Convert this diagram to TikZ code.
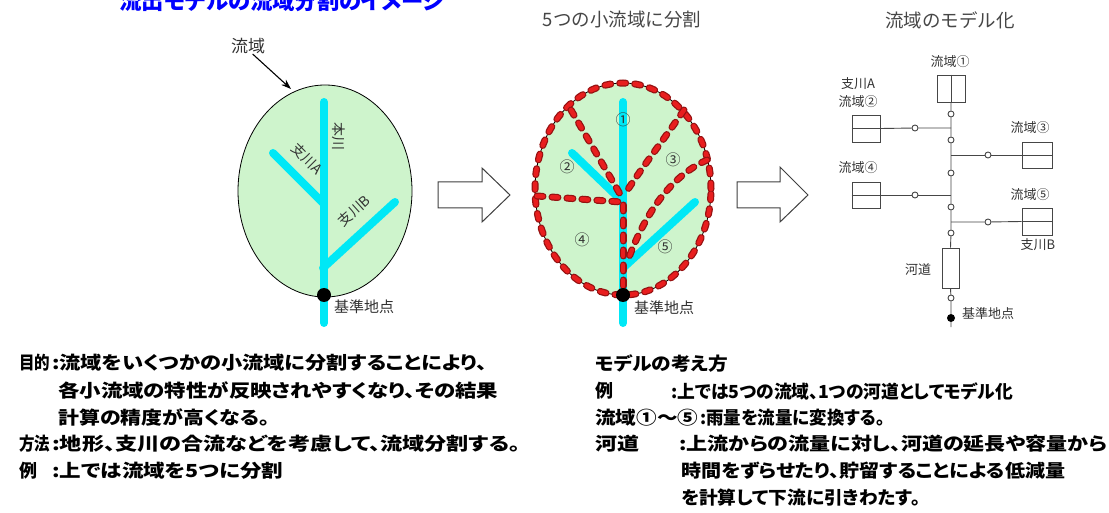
\documentclass[tikz,border=0pt]{standalone}
\usepackage{graphicx}
\usepackage{fontspec}
\setmainfont{Noto Sans CJK JP}
\newfontfamily\jpp[RawFeature=+palt]{Noto Sans CJK JP}
\usetikzlibrary{arrows.meta}

\definecolor{leafgreen}{RGB}{206,244,204}
\definecolor{rivercyan}{RGB}{0,232,246}
\definecolor{darkred}{RGB}{150,18,18}
\definecolor{brightred}{RGB}{232,30,30}
\definecolor{labelgray}{RGB}{50,50,50}
\definecolor{titlegray}{RGB}{70,70,70}
\definecolor{linegray}{RGB}{70,70,70}
\definecolor{titleblue}{RGB}{0,0,255}

% stretch a line of text horizontally to a given width
\newcommand\spanto[2]{\resizebox{#1}{\height}{#2}}

\tikzset{
  leaf/.style={fill=leafgreen, draw=black, line width=0.8pt},
  river/.style={draw=rivercyan, line width=8pt, line cap=round},
  reddash/.style={
    preaction={draw=darkred, line width=7pt, line cap=round, dash pattern=on 6pt off 9pt},
    draw=brightred, line width=4.5pt, line cap=round, dash pattern=on 6pt off 9pt},
  basedot/.style={circle, fill=black, inner sep=0pt, minimum size=14pt},
  lbl/.style={text=labelgray, inner sep=0pt, font=\fontsize{15}{17}\selectfont},
  smalllbl/.style={text=labelgray, inner sep=0pt, font=\fontsize{13}{15}\selectfont},
  headline/.style={text=titlegray, inner sep=0pt, font=\fontsize{18.5}{20}\selectfont},
  jbox/.style={draw=linegray, fill=white, line width=0.9pt, inner sep=0pt},
  tick/.style={circle, draw=linegray, fill=white, line width=0.9pt, inner sep=0pt, minimum size=6pt},
  wire/.style={draw=linegray, line width=0.9pt},
  note/.style={anchor=west, inner sep=0pt, font=\jpp\bfseries\fontsize{18}{20}\selectfont},
  blockarrow/.style={draw=black!75, fill=white, line width=1pt, line join=miter}
}

\begin{document}
\begin{tikzpicture}[x=1pt,y=-1pt]
\path[use as bounding box] (0,0) rectangle (1109,513);
\fill[white] (0,0) rectangle (1109,513);

% heading, cut by the top edge
\node[inner sep=0pt, text=titleblue, font=\jpp\bfseries\fontsize{22}{24}\selectfont] (title) at (282,1) {\spanto{325pt}{流出モデルの流域分割のイメージ}};

% ---------- left: whole basin ----------
\fill[leaf] (325,191) ellipse [x radius=87pt, y radius=106pt];
\coordinate (Lt) at (324,102);
\coordinate (Lb) at (324,323);
\coordinate (LAt) at (273,153);
\coordinate (LAj) at (323,203);
\coordinate (LBt) at (395,202);
\coordinate (LBj) at (323,268);
\draw[river] (Lt) -- (Lb);
\draw[river] (LAt) -- (LAj);
\draw[river] (LBt) -- (LBj);
\node[basedot] (Lbase) at (324,295) {};
\node[lbl, anchor=west] (Lbaselbl) at (334,307) {基準地点};
\node[lbl, font=\fontsize{14}{16}\selectfont, rotate=-90] (honsen) at (339,137) {本川};
\node[lbl, font=\fontsize{14}{16}\selectfont, rotate=-45] (shiA) at (307,159) {支川A};
\node[lbl, font=\fontsize{14}{16}\selectfont, rotate=42] (shiB) at (354,211) {支川B};
\node[lbl, font=\fontsize{17}{19}\selectfont] (ryuiki) at (248,46) {流域};
\coordinate (leafedge) at (291,89);
\draw[-{Stealth[length=10pt,width=7pt]}, line width=1.1pt, black] (ryuiki.-60) -- (leafedge);

% ---------- arrows ----------
\draw[blockarrow] (438,182) -- (482,182) -- (482,168) -- (510,195) -- (482,222) -- (482,208) -- (438,208) -- cycle;
\draw[blockarrow] (737,182) -- (780,182) -- (780,167) -- (808,195) -- (780,222) -- (780,208) -- (737,208) -- cycle;

% ---------- middle: five sub-basins ----------
\node[headline] (midhead) at (622,20) {5つの小流域に分割};
\fill[leaf] (623,189) ellipse [x radius=88pt, y radius=106pt];
\coordinate (Mt) at (623,102);
\coordinate (Mb) at (623,323);
\coordinate (MAt) at (572,153);
\coordinate (MAj) at (622,201);
\coordinate (MBt) at (695,202);
\coordinate (MBj) at (623,268);
\draw[river] (Mt) -- (Mb);
\draw[river] (MAt) -- (MAj);
\draw[river] (MBt) -- (MBj);
% sub-basin borders
\draw[reddash] (623,189) ellipse [x radius=88pt, y radius=106pt];
\draw[reddash] (571,110) -- (620,194);
\draw[reddash] (684,110) .. controls (660,145) and (640,170) .. (625,194);
\draw[reddash] (537,196) -- (621,202);
\draw[reddash] (623,205) -- (623,292);
\draw[reddash] (707,160) .. controls (680,172) and (650,200) .. (628,260);
\node[basedot] (Mbase) at (623,295) {};
\node[lbl, anchor=west] (Mbaselbl) at (634,308) {基準地点};
\node[lbl] (s1) at (623,120) {①};
\node[lbl] (s2) at (567,167) {②};
\node[lbl] (s3) at (673,160) {③};
\node[lbl] (s4) at (582,240) {④};
\node[lbl] (s5) at (665,247) {⑤};

% ---------- right: model network ----------
\node[headline] (righthead) at (950,20) {流域のモデル化};
\node[jbox, minimum width=28pt, minimum height=27pt] (box1) at (951,88.5) {};
\node[jbox, minimum width=28pt, minimum height=27pt] (box2) at (866,128.5) {};
\node[jbox, minimum width=30pt, minimum height=26pt] (box3) at (1037,155) {};
\node[jbox, minimum width=28pt, minimum height=26pt] (box4) at (866,195) {};
\node[jbox, minimum width=30pt, minimum height=27pt] (box5) at (1037,221.5) {};
\node[jbox, minimum width=17pt, minimum height=40pt] (channel) at (950.5,268) {};
\draw[wire] (box1.north) -- (box1.south);
\draw[wire] (box2.west) -- (box2.east);
\draw[wire] (box3.west) -- (box3.east);
\draw[wire] (box4.west) -- (box4.east);
\draw[wire] (box5.west) -- (box5.east);

\coordinate (j2) at (951,128);
\coordinate (j3) at (951,155);
\coordinate (j4) at (951,195);
\coordinate (j5) at (951,222);
\coordinate (outlet) at (951,327);
\node[tick] (c1) at (951,114) {};
\node[tick] (c2) at (951,140) {};
\node[tick] (c3) at (951,173) {};
\node[tick] (c4) at (951,207) {};
\node[tick] (c5) at (951,233) {};
\node[tick] (c6) at (951,298) {};
\node[tick] (b2) at (915,128) {};
\node[tick] (b3) at (988,155) {};
\node[tick] (b4) at (915,195) {};
\node[tick] (b5) at (988,222) {};
\node[circle, fill=black, inner sep=0pt, minimum size=8pt] (Rbase) at (951,318) {};

\draw[wire] (box1.south) -- (c1) -- (j2) -- (c2) -- (j3) -- (c3) -- (j4) -- (c4) -- (j5) -- (c5) -- (channel.north);
\draw[wire] (channel.south) -- (c6) -- (Rbase) -- (outlet);
\draw[wire] (j2) -- (b2) -- (box2.east);
\draw[wire] (j3) -- (b3) -- (box3.west);
\draw[wire] (j4) -- (b4) -- (box4.east);
\draw[wire] (j5) -- (b5) -- (box5.west);

\node[smalllbl] (l1) at (950,62) {流域①};
\node[smalllbl] (lA) at (858,84) {支川A};
\node[smalllbl] (l2) at (858,102) {流域②};
\node[smalllbl] (l3) at (1030,128) {流域③};
\node[smalllbl] (l4) at (858,168) {流域④};
\node[smalllbl] (l5) at (1030,195) {流域⑤};
\node[smalllbl] (lB) at (1038,245) {支川B};
\node[smalllbl] (lch) at (918,270) {河道};
\node[smalllbl, anchor=west] (lbase) at (962,314) {基準地点};

% ---------- notes, left ----------
\node[note] (n1h) at (19,363) {\spanto{31pt}{目的}};
\node[note] (n1) at (52,363) {\spanto{435pt}{:流域をいくつかの小流域に分割することにより、}};
\node[note] (n2) at (58,390) {\spanto{440pt}{各小流域の特性が反映されやすくなり、その結果}};
\node[note] (n3) at (58,417) {\spanto{212pt}{計算の精度が高くなる。}};
\node[note] (n4h) at (19,444) {\spanto{31pt}{方法}};
\node[note] (n4) at (52,444) {\spanto{468pt}{:地形、支川の合流などを考慮して、流域分割する。}};
\node[note] (n5h) at (19,471) {例};
\node[note] (n5) at (52,471) {\spanto{231pt}{:上では流域を5つに分割}};

% ---------- notes, right ----------
\node[note] (m0) at (595,364) {\spanto{133pt}{モデルの考え方}};
\node[note] (m1h) at (595,391) {例};
\node[note] (m1) at (671,391) {\spanto{342pt}{:上では5つの流域、1つの河道としてモデル化}};
\node[note] (m2h) at (595,418) {\spanto{103pt}{流域①～⑤}};
\node[note] (m2) at (700,418) {\spanto{185pt}{:雨量を流量に変換する。}};
\node[note] (m3h) at (595,444) {\spanto{44pt}{河道}};
\node[note] (m3) at (679,444) {\spanto{428pt}{:上流からの流量に対し、河道の延長や容量から}};
\node[note] (m4) at (681,471) {\spanto{384pt}{時間をずらせたり、貯留することによる低減量}};
\node[note] (m5) at (681,498) {\spanto{239pt}{を計算して下流に引きわたす。}};
\end{tikzpicture}
\end{document}
